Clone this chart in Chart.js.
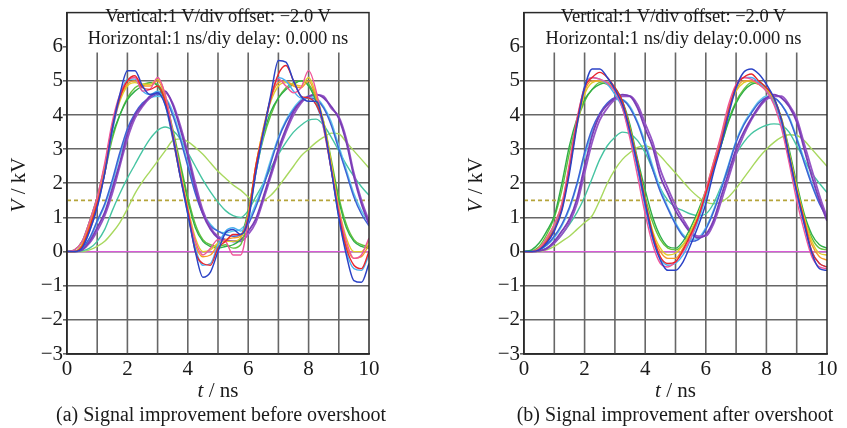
<!DOCTYPE html>
<html><head><meta charset="utf-8">
<script src="https://cdn.jsdelivr.net/npm/chart.js@4.4.1/dist/chart.umd.min.js"></script>
<style>
body{margin:0;background:#fff;}
#wrap{position:relative;width:847px;height:428px;overflow:hidden;font-family:'Liberation Serif','Times New Roman',serif;color:#1a1a1a;}
canvas{position:absolute;top:0;}
.t{position:absolute;white-space:nowrap;text-align:center;}
.hd{font-size:18.5px;line-height:22px;}
.xt{font-size:21px;}
.cap{font-size:20px;}
.yt{font-size:21px;transform:rotate(-90deg);transform-origin:center center;width:80px;height:24px;line-height:24px;}
</style></head><body>
<div id="wrap">
<canvas id="ca" width="420" height="428" style="left:0"></canvas>
<canvas id="cb" width="390" height="428" style="left:457px"></canvas>
<div class="t hd" style="left:67px;width:302px;top:5px;">Vertical:1 V/div offset: −2.0 V<br>Horizontal:1 ns/diy delay: 0.000 ns</div>
<div class="t hd" style="left:522px;width:303px;top:5px;">Vertical:1 V/div offset: −2.0 V<br>Horizontal:1 ns/diy delay:0.000 ns</div>
<div class="t yt" style="left:-22px;top:173px;"><i>V</i> / kV</div>
<div class="t yt" style="left:435px;top:173px;"><i>V</i> / kV</div>
<div class="t xt" style="left:67px;width:302px;top:378px;"><i>t</i> / ns</div>
<div class="t xt" style="left:524px;width:303px;top:378px;"><i>t</i> / ns</div>
<div class="t cap" style="left:21px;width:400px;top:403px;">(a) Signal improvement before overshoot</div>
<div class="t cap" style="left:475px;width:400px;top:403px;">(b) Signal improvement after overshoot</div>
</div>
<script>
// time samples (ns)
const T = [0,0.25,0.5,0.75,1,1.25,1.5,1.75,2,2.25,2.5,2.75,3,3.25,3.5,3.75,4,4.25,4.5,4.75,5,5.25,5.5,5.75,6,6.25,6.5,6.75,7,7.25,7.5,7.75,8,8.25,8.5,8.75,9,9.25,9.5,9.75,10];
const xTicks = [0,2,4,6,8,10];
const yTicks = [-3,-2,-1,0,1,2,3,4,5,6];
const vGrid = [1,2,3,4,5,6,7,8,9];
const thresholdV = 1.5;
const baselineV = 0;

// (a) before overshoot improvement  (kV)
const aBlue   = [0,0,0.1,0.6,1.3,2.3,3.6,4.6,5.3,5.3,4.85,4.6,4.65,4.3,3.4,2.2,1.1,0.0,-0.75,-0.6,0.0,0.55,0.65,0.5,0.9,2.3,3.5,4.6,5.6,5.55,5.0,4.55,4.4,4.4,3.7,2.4,1.0,-0.1,-0.85,-0.9,-0.35];
const aRed    = [0,0,0.15,0.7,1.4,2.3,3.6,4.5,5.0,5.15,4.8,4.75,4.85,4.4,3.35,2.2,1.2,0.0,-0.35,-0.4,0.1,0.3,0.5,0.5,1.0,2.5,3.5,4.5,5.2,5.45,5.0,4.55,4.5,4.3,3.7,2.4,1.1,0.1,-0.4,-0.5,0.0];
const aPink   = [0,0.05,0.3,0.9,1.6,2.6,3.8,4.6,5.0,5.1,4.7,4.75,5.1,4.6,3.5,2.3,1.2,0.3,-0.1,0.1,0.35,0.3,-0.1,-0.1,0.9,2.4,3.5,4.5,5.05,4.85,4.65,4.8,5.3,4.7,3.6,2.4,1.2,0.3,-0.2,-0.1,0.4];
const aOrange = [0,0,0.2,0.8,1.5,2.5,3.7,4.5,4.9,5.0,4.85,4.85,5.0,4.5,3.4,2.3,1.2,0.2,-0.15,-0.1,0.2,0.35,0.4,0.45,1.1,2.5,3.6,4.5,4.95,5.0,4.85,4.8,5.0,4.5,3.7,2.5,1.2,0.2,-0.2,-0.15,0.2];
const aYellow = [0,0,0.2,0.8,1.5,2.5,3.6,4.4,4.85,4.95,4.9,4.9,5.05,4.6,3.5,2.4,1.3,0.4,0.0,0.05,0.25,0.3,0.3,0.4,1.1,2.5,3.6,4.4,4.85,4.95,4.9,4.85,5.1,4.6,3.8,2.6,1.3,0.4,0.0,0.0,0.3];
const aGreen  = [0,0.05,0.3,0.9,1.6,2.5,3.4,4.0,4.45,4.7,4.85,4.95,4.85,4.4,3.5,2.5,1.5,0.7,0.3,0.15,0.1,0.15,0.2,0.4,1.2,2.4,3.4,4.1,4.5,4.75,4.9,5.0,4.85,4.4,3.7,2.6,1.5,0.7,0.3,0.15,0.1];
const aGreen2 = [0,0,0.2,0.7,1.4,2.3,3.3,4.0,4.5,4.8,4.9,4.95,4.9,4.5,3.6,2.6,1.6,0.8,0.35,0.2,0.15,0.2,0.1,0.2,1.0,2.3,3.3,4.0,4.5,4.8,4.95,5.0,4.9,4.5,3.8,2.7,1.6,0.8,0.35,0.2,0.15];
const aCyan   = [0,0,0.1,0.6,1.3,2.3,3.5,4.5,5.05,5.05,4.7,4.6,4.7,4.3,3.3,2.2,1.1,0.1,-0.4,-0.35,0.2,0.6,0.7,0.6,1.0,2.3,3.4,4.5,5.1,5.0,4.7,4.5,4.5,4.3,3.6,2.4,1.0,0.0,-0.5,-0.55,-0.1];
const aPurple = [0,0,0.05,0.3,0.7,1.15,1.85,2.6,3.45,4.0,4.3,4.55,4.65,4.7,4.3,3.6,2.8,1.85,1.1,0.65,0.4,0.33,0.3,0.35,0.6,0.95,1.6,2.3,3.0,3.6,4.1,4.4,4.55,4.6,4.5,4.25,3.9,3.2,2.2,1.4,0.8];
const aPurple2= [0,0,0.05,0.25,0.6,1.05,1.7,2.5,3.3,3.9,4.25,4.5,4.65,4.65,4.35,3.7,2.9,2.0,1.2,0.7,0.45,0.35,0.3,0.3,0.5,0.85,1.5,2.2,2.9,3.5,4.0,4.35,4.55,4.6,4.55,4.2,3.95,3.3,2.3,1.5,0.9];
const aBlue2  = [0,0,0.1,0.4,0.9,1.4,2.1,2.9,3.6,4.05,4.35,4.5,4.6,4.5,4.0,3.3,2.5,1.7,1.1,0.75,0.6,0.5,0.45,0.5,0.8,1.3,1.9,2.6,3.3,3.8,4.15,4.4,4.5,4.45,4.2,3.7,3.0,2.3,1.6,1.1,0.75];
const aCyan2  = [0,0,0.08,0.35,0.85,1.35,2.0,2.8,3.5,4.0,4.3,4.5,4.55,4.5,4.1,3.4,2.6,1.8,1.15,0.8,0.6,0.55,0.6,0.65,0.9,1.4,2.0,2.7,3.35,3.85,4.2,4.45,4.55,4.5,4.25,3.8,3.1,2.4,1.7,1.2,0.85];
const aTeal   = [0,0,0.02,0.1,0.3,0.65,1.2,1.7,2.15,2.55,2.95,3.3,3.55,3.65,3.55,3.3,2.9,2.5,2.1,1.75,1.45,1.2,1.05,1.0,1.2,1.6,2.0,2.45,2.85,3.2,3.5,3.7,3.85,3.88,3.7,3.35,2.95,2.55,2.2,1.9,1.65];
const aLime   = [0,0,0,0.05,0.15,0.3,0.55,0.85,1.25,1.7,2.05,2.35,2.65,2.95,3.25,3.3,3.22,3.05,2.85,2.6,2.35,2.15,1.95,1.8,1.6,1.48,1.5,1.65,1.9,2.2,2.5,2.8,3.0,3.2,3.35,3.47,3.45,3.2,2.95,2.7,2.45];

// (b) after overshoot improvement (kV)
const bBlue   = [0,0,0.05,0.25,0.6,1.2,2.3,3.7,4.8,5.35,5.35,5.1,4.75,4.3,3.5,2.5,1.4,0.4,-0.25,-0.55,-0.55,-0.3,0.2,0.75,1.4,2.3,3.1,4.0,4.8,5.25,5.35,5.2,4.9,4.5,3.85,2.8,1.75,0.8,-0.05,-0.5,-0.55];
const bRed    = [0,0,0.05,0.3,0.65,1.25,2.4,3.8,4.8,5.1,5.25,5.1,4.8,4.4,3.55,2.6,1.5,0.5,-0.15,-0.35,-0.3,0.05,0.5,1.0,1.7,2.45,3.2,4.1,4.85,5.1,5.2,5.0,4.8,4.5,3.85,2.8,1.8,0.9,0.0,-0.35,-0.45];
const bPink   = [0,0,0.1,0.4,0.8,1.4,2.6,3.9,4.8,5.1,5.05,4.95,4.7,4.2,3.3,2.2,1.1,0.2,-0.35,-0.45,-0.3,0.0,0.4,1.0,1.8,2.6,3.4,4.3,4.9,5.1,5.05,4.9,4.7,4.3,3.6,2.6,1.5,0.6,-0.15,-0.45,-0.5];
const bOrange = [0,0,0.1,0.35,0.75,1.35,2.5,3.8,4.7,5.0,5.0,4.9,4.7,4.3,3.5,2.5,1.4,0.5,0.0,-0.2,-0.2,0.1,0.5,1.0,1.75,2.55,3.3,4.2,4.75,5.0,5.0,4.9,4.7,4.4,3.8,2.8,1.8,0.9,0.2,-0.15,-0.25];
const bYellow = [0,0,0.1,0.4,0.8,1.4,2.5,3.7,4.6,4.95,5.0,4.95,4.75,4.35,3.6,2.6,1.5,0.6,0.1,-0.1,-0.05,0.2,0.6,1.1,1.8,2.6,3.35,4.2,4.7,4.95,5.0,4.9,4.75,4.45,3.9,2.9,1.9,1.0,0.3,-0.05,-0.1];
const bGreen  = [0,0.05,0.25,0.6,1.05,2.0,3.1,3.9,4.45,4.75,4.9,4.95,4.8,4.4,3.7,2.7,1.8,1.0,0.45,0.15,0.1,0.3,0.7,1.2,1.8,2.5,3.1,3.8,4.35,4.7,4.9,4.95,4.8,4.5,3.9,3.0,2.0,1.1,0.5,0.2,0.1];
const bGreen2 = [0,0.02,0.15,0.5,1.0,1.8,2.9,3.8,4.4,4.75,4.95,4.9,4.75,4.35,3.6,2.6,1.6,0.85,0.35,0.1,0.05,0.2,0.55,1.05,1.65,2.4,3.1,3.85,4.4,4.75,4.95,4.9,4.75,4.4,3.8,2.9,1.9,1.0,0.4,0.1,0.05];
const bCyan   = [0,0,0.05,0.3,0.7,1.3,2.4,3.8,4.85,5.1,5.05,4.9,4.6,4.2,3.4,2.4,1.3,0.35,-0.2,-0.4,-0.35,-0.1,0.35,0.9,1.6,2.4,3.2,4.1,4.8,5.1,5.1,4.95,4.7,4.35,3.7,2.7,1.7,0.8,0.0,-0.35,-0.45];
const bPurple = [0,0,0.02,0.1,0.3,0.6,0.95,1.55,2.5,3.4,4.0,4.3,4.5,4.6,4.55,4.2,3.6,3.05,2.2,1.7,1.2,0.85,0.55,0.4,0.5,0.9,1.6,2.3,3.0,3.5,3.9,4.25,4.5,4.6,4.5,4.25,3.8,3.0,2.2,1.5,0.9];
const bPurple2= [0,0,0.02,0.08,0.25,0.5,0.85,1.4,2.3,3.2,3.85,4.2,4.45,4.55,4.55,4.3,3.75,3.2,2.4,1.85,1.35,0.95,0.6,0.45,0.45,0.8,1.45,2.15,2.85,3.4,3.85,4.2,4.45,4.55,4.55,4.3,3.9,3.15,2.4,1.65,1.0];
const bBlue2  = [0,0,0.05,0.2,0.45,0.8,1.3,2.0,2.9,3.6,4.05,4.35,4.5,4.45,4.2,3.75,3.1,2.4,1.75,1.25,0.8,0.45,0.3,0.35,0.65,1.15,1.8,2.5,3.2,3.7,4.05,4.35,4.5,4.5,4.3,3.9,3.3,2.6,1.95,1.4,1.0];
const bCyan2  = [0,0,0.04,0.18,0.4,0.75,1.25,1.95,2.8,3.5,4.0,4.3,4.45,4.45,4.25,3.8,3.2,2.5,1.85,1.3,0.85,0.5,0.35,0.4,0.7,1.2,1.85,2.55,3.25,3.75,4.1,4.4,4.55,4.5,4.3,3.95,3.35,2.7,2.0,1.45,1.05];
const bTeal   = [0,0,0.02,0.1,0.25,0.5,0.8,1.15,1.6,2.15,2.7,3.1,3.35,3.5,3.45,3.25,2.9,2.4,1.85,1.5,1.3,1.2,1.1,1.05,1.1,1.4,1.9,2.4,2.85,3.2,3.45,3.6,3.7,3.74,3.7,3.5,3.1,2.7,2.3,2.0,1.73];
const bLime   = [0,0,0,0.05,0.15,0.3,0.45,0.65,0.85,1.05,1.5,2.0,2.4,2.7,2.9,3.05,3.1,3.0,2.8,2.55,2.3,2.05,1.8,1.6,1.45,1.4,1.45,1.6,1.85,2.15,2.45,2.75,3.0,3.2,3.35,3.42,3.4,3.25,3.0,2.75,2.5];

const COLORS = {
  blue:'#2c43c6', red:'#e8262c', pink:'#f0559a', orange:'#f59a28', yellow:'#e2cc2a',
  green:'#2fae48', green2:'#66c23c', cyan:'#48aef0', purple:'#7a3db6', purple2:'#9656c6',
  blue2:'#3d63d6', cyan2:'#5ec8ea', teal:'#46c4a2', lime:'#a8d85e', dash:'#b5a43a', zero:'#d75ad7'
};
const GRID = '#666666';

function toXY(arr){ return T.map((t,i)=>({x:t,y:arr[i]})); }
function level(v){ return [{x:0,y:v},{x:10,y:v}]; }

function buildSets(s){
  // listed bottom -> top
  const list = [
    {data:level(baselineV), c:COLORS.zero, w:1.4},
    {data:level(thresholdV), c:COLORS.dash, w:1.6, dash:[4,3]},
    {data:toXY(s.lime), c:COLORS.lime, w:1.4},
    {data:toXY(s.teal), c:COLORS.teal, w:1.4},
    {data:toXY(s.cyan2), c:COLORS.cyan2, w:1.4},
    {data:toXY(s.blue2), c:COLORS.blue2, w:1.5},
    {data:toXY(s.purple2), c:COLORS.purple2, w:1.8},
    {data:toXY(s.purple), c:COLORS.purple, w:1.8},
    {data:toXY(s.green2), c:COLORS.green2, w:1.4},
    {data:toXY(s.green), c:COLORS.green, w:1.4},
    {data:toXY(s.yellow), c:COLORS.yellow, w:1.4},
    {data:toXY(s.orange), c:COLORS.orange, w:1.4},
    {data:toXY(s.cyan), c:COLORS.cyan, w:1.4},
    {data:toXY(s.pink), c:COLORS.pink, w:1.4},
    {data:toXY(s.red), c:COLORS.red, w:1.4},
    {data:toXY(s.blue), c:COLORS.blue, w:1.5}
  ];
  const n = list.length;
  return list.map((d,i)=>({
    data:d.data, borderColor:d.c, borderWidth:d.w, borderDash:d.dash||[],
    pointRadius:0, fill:false, cubicInterpolationMode:'monotone', order:n-i
  }));
}

const framePlugin = {
  id:'frame',
  beforeDatasetsDraw(chart){
    const {ctx, scales:{x,y}} = chart;
    ctx.save();
    ctx.strokeStyle = GRID; ctx.lineWidth = 1.6;
    vGrid.forEach(v=>{
      const px = x.getPixelForValue(v);
      ctx.beginPath();
      ctx.moveTo(px, y.getPixelForValue(-3));
      ctx.lineTo(px, y.getPixelForValue(5.83));
      ctx.stroke();
    });
    ctx.restore();
  },
  afterDraw(chart){
    const {ctx, chartArea:a} = chart;
    ctx.save();
    ctx.strokeStyle = '#2a2a2a'; ctx.lineWidth = 1.5;
    ctx.strokeRect(a.left, a.top, a.right-a.left, a.bottom-a.top);
    ctx.restore();
  }
};

function makeChart(id, series, padRight){
  return new Chart(document.getElementById(id), {
    type:'line',
    data:{datasets:buildSets(series)},
    plugins:[framePlugin],
    options:{
      responsive:false, animation:false, devicePixelRatio:1,
      layout:{padding:{left:0,right:padRight,top:7,bottom:0}},
      plugins:{legend:{display:false}, tooltip:{enabled:false}},
      scales:{
        x:{type:'linear', min:0, max:10,
          afterBuildTicks(s){ s.ticks = xTicks.map(v=>({value:v})); },
          afterFit(s){ s.height = 74; },
          grid:{display:false, drawTicks:false},
          border:{display:true, color:'#2a2a2a', width:1.5},
          ticks:{padding:3, color:'#1a1a1a', font:{family:"'Liberation Serif'", size:21},
            callback:v=>String(v)}
        },
        y:{type:'linear', min:-3, max:7,
          afterBuildTicks(s){ s.ticks = yTicks.concat([7]).map(v=>({value:v})); },
          afterFit(s){ s.width = 67; },
          grid:{drawTicks:true, tickLength:4, lineWidth:1.6,
            color:c=> (c.tick && (c.tick.value>=6)) ? 'rgba(0,0,0,0)' : GRID,
            tickColor:c=> (c.tick && c.tick.value===7) ? 'rgba(0,0,0,0)' : GRID},
          border:{display:true, color:'#2a2a2a', width:1.5},
          ticks:{padding:0, color:'#1a1a1a', font:{family:"'Liberation Serif'", size:21},
            callback:v=> v===7 ? '' : (v<0 ? '\u2212'+Math.abs(v) : String(v))}
        }
      }
    }
  });
}

makeChart('ca', {blue:aBlue,red:aRed,pink:aPink,orange:aOrange,yellow:aYellow,green:aGreen,green2:aGreen2,cyan:aCyan,purple:aPurple,purple2:aPurple2,blue2:aBlue2,cyan2:aCyan2,teal:aTeal,lime:aLime}, 51);
makeChart('cb', {blue:bBlue,red:bRed,pink:bPink,orange:bOrange,yellow:bYellow,green:bGreen,green2:bGreen2,cyan:bCyan,purple:bPurple,purple2:bPurple2,blue2:bBlue2,cyan2:bCyan2,teal:bTeal,lime:bLime}, 20);
</script>
</body></html>
